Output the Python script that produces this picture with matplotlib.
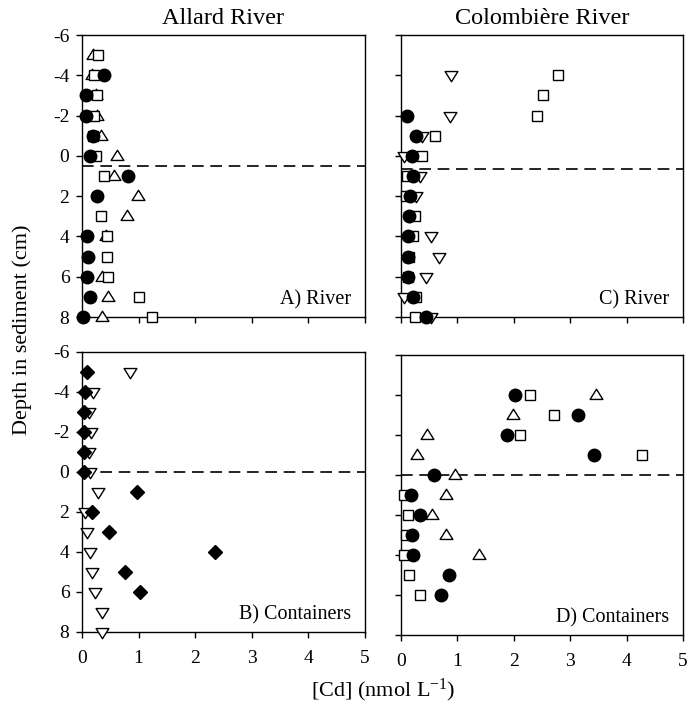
import numpy as np
import matplotlib
matplotlib.use("Agg")
import matplotlib.pyplot as plt
from matplotlib.path import Path

plt.rcParams['font.family'] = ['Liberation Serif', 'DejaVu Serif']
plt.rcParams['mathtext.fontset'] = 'custom'
plt.rcParams['mathtext.rm'] = 'Liberation Serif'
plt.rcParams['mathtext.it'] = 'Liberation Serif:italic'

nan = np.nan

# ---------------- data ----------------
depth_A = [-5, -4, -3, -2, -1, 0, 1, 2, 3, 4, 5, 6, 7, 8]
A_circle = [nan, 0.38, 0.07, 0.07, 0.20, 0.15, 0.82, 0.27, nan, 0.09, 0.11, 0.09, 0.15, 0.02]
A_square = [0.29, 0.21, 0.26, 0.21, 0.20, 0.25, 0.38, nan, 0.34, 0.44, 0.44, 0.46, 1.01, 1.23]
A_triangle = [0.20, 0.17, 0.24, 0.26, 0.33, 0.61, 0.57, 0.99, 0.80, 0.42, nan, 0.35, 0.46, 0.35]
A_interface = 0.5

depth_B = [-5, -4, -3, -2, -1, 0, 1, 2, 3, 4, 5, 6, 7, 8]
B_diamond = [0.08, 0.06, 0.04, 0.03, 0.04, 0.03, 0.98, 0.18, 0.47, 2.35, 0.76, 1.02, nan, nan]
B_dtriangle = [0.85, 0.19, 0.13, 0.16, 0.13, 0.14, 0.28, 0.06, 0.08, 0.14, 0.18, 0.23, 0.35, 0.35]
B_interface = 0.0

depth_C = [-4, -3, -2, -1, 0, 1, 2, 3, 4, 5, 6, 7, 8]
C_circle = [nan, nan, 0.10, 0.26, 0.20, 0.22, 0.16, 0.14, 0.12, 0.12, 0.12, 0.22, 0.44]
C_square = [2.79, 2.51, 2.41, 0.61, 0.38, 0.10, 0.08, 0.24, 0.22, 0.14, 0.12, 0.26, 0.24]
C_dtriangle = [0.89, nan, 0.86, 0.38, 0.06, 0.34, 0.27, 0.16, 0.54, 0.67, 0.44, 0.06, 0.54]
C_interface = 0.65

depth_D = [-4, -3, -2, -1, 0, 1, 2, 3, 4, 5, 6]
D_circle = [2.03, 3.14, 1.88, 3.42, 0.59, 0.18, 0.34, 0.20, 0.21, 0.85, 0.71]
D_square = [2.28, 2.72, 2.11, 4.28, nan, 0.05, 0.12, 0.09, 0.06, 0.15, 0.33]
D_triangle = [3.45, 1.99, 0.46, 0.28, 0.95, 0.80, 0.55, 0.80, 1.38, nan, nan]
D_interface = 0.0

y_ticks = [-6, -4, -2, 0, 2, 4, 6, 8]
y_ticklabels = ['-6', '-4', '-2', '0', '2', '4', '6', '8']
x_ticks = [0, 1, 2, 3, 4, 5]
x_ticklabels = ['0', '1', '2', '3', '4', '5']

col_titles = ['Allard River', 'Colombière River']
panel_labels = ['A) River', 'B) Containers', 'C) River', 'D) Containers']
ylabel = 'Depth in sediment (cm)'
xlabel = r'[Cd] (nmol L$^{\mathregular{-1}}$)'

# ---------------- markers ----------------
tri_up = Path([(-1, -0.62), (1, -0.62), (0, 0.98), (-1, -0.62)],
              [Path.MOVETO, Path.LINETO, Path.LINETO, Path.CLOSEPOLY])
tri_dn = Path([(-1, 0.62), (1, 0.62), (0, -0.98), (-1, 0.62)],
              [Path.MOVETO, Path.LINETO, Path.LINETO, Path.CLOSEPOLY])

W, H = 696, 708
fig = plt.figure(figsize=(W / 100, H / 100), dpi=100)


def make_ax(x0, x1, y0, y1):
    return fig.add_axes([x0 / W, 1 - y1 / H, (x1 - x0) / W, (y1 - y0) / H])


axA = make_ax(82, 365, 35, 317)
axC = make_ax(401, 683, 35, 317)
axB = make_ax(82, 365, 352, 632)
axD = make_ax(401, 683, 355, 635)

mew = 1.0


def open_pts(ax, x, y, marker, ms, z):
    ax.plot(x, y, linestyle='none', marker=marker, ms=ms, mfc='white', mec='black',
            mew=mew, clip_on=False, zorder=z)


def fill_pts(ax, x, y, marker, ms, z):
    ax.plot(x, y, linestyle='none', marker=marker, ms=ms, mfc='black', mec='black',
            mew=mew, clip_on=False, zorder=z)


TRI_MS = 9.2
# Panel A
open_pts(axA, A_triangle, depth_A, tri_up, TRI_MS, 3)
open_pts(axA, A_square, depth_A, 's', 7.8, 4)
fill_pts(axA, A_circle, depth_A, 'o', 9.0, 5)
# Panel B
open_pts(axB, B_dtriangle, depth_B, tri_dn, TRI_MS, 3)
fill_pts(axB, B_diamond, depth_B, 'D', 7.2, 4)
# Panel C
open_pts(axC, C_dtriangle, depth_C, tri_dn, TRI_MS, 3)
open_pts(axC, C_square, depth_C, 's', 7.8, 4)
fill_pts(axC, C_circle, depth_C, 'o', 9.0, 5)
# Panel D
open_pts(axD, D_triangle, depth_D, tri_up, TRI_MS, 3)
open_pts(axD, D_square, depth_D, 's', 7.8, 4)
fill_pts(axD, D_circle, depth_D, 'o', 9.0, 5)

interfaces = [A_interface, B_interface, C_interface, D_interface]
for ax, yi, lab in zip([axA, axB, axC, axD], interfaces, panel_labels):
    ax.set_xlim(0, 5)
    ax.set_ylim(8, -6)
    ax.axhline(yi, color='black', lw=1.2, dashes=(7, 4), zorder=2)
    ax.set_xticks(x_ticks)
    ax.set_yticks(y_ticks)
    ax.tick_params(direction='out', length=4, width=1.0, labelsize=14, pad=5,
                   top=False, right=False)
    for s in ax.spines.values():
        s.set_linewidth(1.0)
    ax.text(0.95, 0.045, lab, transform=ax.transAxes, ha='right', va='baseline',
            fontsize=14.5)

axA.set_yticklabels(y_ticklabels)
axB.set_yticklabels(y_ticklabels)
axC.set_yticklabels([])
axD.set_yticklabels([])
axA.set_xticklabels([])
axC.set_xticklabels([])
axB.set_xticklabels(x_ticklabels)
axD.set_xticklabels(x_ticklabels)
axB.tick_params(axis='x', pad=9)
axD.tick_params(axis='x', pad=9)

axA.set_title(col_titles[0], fontsize=17.5, pad=8)
axC.set_title(col_titles[1], fontsize=17.5, pad=8)

fig.text(22 / W, 1 - 330 / H, ylabel, rotation=90, ha='center', va='center', fontsize=16)
fig.text(383 / W, 1 - 690 / H, xlabel, ha='center', va='center', fontsize=16)

fig.savefig('out.png', dpi=100)
